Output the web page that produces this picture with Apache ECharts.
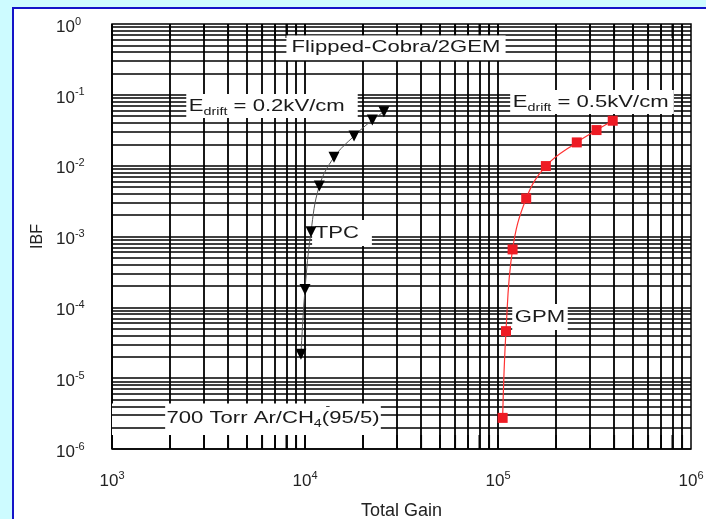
<!DOCTYPE html>
<html>
<head>
<meta charset="utf-8">
<script src="https://cdn.jsdelivr.net/npm/echarts@6/dist/echarts.min.js"></script>
<style>
    html, body {margin: 0; padding: 0; overflow: hidden; background: #cdfbff;}
    #panel {position: absolute; left: 12px; top: 7px; right: 0; bottom: 0; background: #fff;
        border-left: 2px solid #1414c8; border-top: 2px solid #1414c8;}
    #ibfChart {position: absolute; left: 0; top: 0; width: 706px; height: 519px;}
</style>
</head>
<body>
<div id="panel"></div>
<div id="ibfChart"></div>
<script>
// TPC, Edrift = 0.2kV/cm
const tpcGain = [9530, 10000, 10740, 11860, 14130, 17950, 22330, 25650];
const tpcIbf = [2.18e-5, 1.79e-4, 1.165e-3, 5.15e-3, 1.31e-2, 2.62e-2, 4.41e-2, 5.77e-2];
// GPM, Edrift = 0.5kV/cm
const gpmGain = [105700, 110000, 119000, 140000, 177000, 256000, 324000, 393000];
const gpmIbf = [2.75e-6, 4.61e-5, 6.57e-4, 3.45e-3, 9.87e-3, 2.13e-2, 3.18e-2, 4.31e-2];

// log grid: decades and 1..9 inside each one
const xDecades = [3, 4, 5];
const yDecades = [-6, -5, -4, -3, -2, -1];
const mantissas = [1, 2, 3, 4, 5, 6, 7, 8, 9];

const FONT = 'Liberation Sans, Arial, sans-serif';

function gridValues(decades) {
    const vals = [];
    decades.forEach(d => mantissas.forEach(m => vals.push(m * Math.pow(10, d))));
    return vals;
}

const xGrid = gridValues(xDecades);
const yGrid = gridValues(yDecades);
const tpcData = tpcGain.map((g, i) => [g, tpcIbf[i]]);
const gpmData = gpmGain.map((g, i) => [g, gpmIbf[i]]);

function powLabel(v) {
    return '{b|10}{s|' + Math.round(Math.log10(v)) + '}';
}

const labelRich = {
    b: {fontSize: 17, fontFamily: FONT, color: '#222', lineHeight: 22},
    s: {fontSize: 11, fontFamily: FONT, color: '#222', lineHeight: 12, verticalAlign: 'top'}
};

function annText(x, y, text, padding) {
    return {
        type: 'text', x: x, y: y, scaleX: 1.3, z: 50, silent: true,
        style: {
            text: text, align: 'center', verticalAlign: 'middle',
            fontSize: 17, fontFamily: FONT, fill: '#1a1a1a',
            backgroundColor: '#fff', padding: padding,
            rich: {
                m: {fontSize: 17, fontFamily: FONT, fill: '#1a1a1a', lineHeight: 22},
                sub: {fontSize: 11, fontFamily: FONT, fill: '#1a1a1a', lineHeight: 10, verticalAlign: 'bottom'}
            }
        }
    };
}

const chart = echarts.init(document.getElementById('ibfChart'));
chart.setOption({
    backgroundColor: 'transparent',
    animation: false,
    grid: {
        left: 112, right: 15, top: 24, bottom: 70, containLabel: false, outerBoundsMode: 'none',
        show: true, borderColor: '#000', borderWidth: 1.5
    },
    xAxis: {
        type: 'log', min: 1e3, max: 1e6,
        name: 'Total Gain', nameLocation: 'middle', nameGap: 53,
        nameTextStyle: {fontSize: 18, fontFamily: FONT, color: '#222'},
        axisLine: {show: false}, axisTick: {show: false}, splitLine: {show: false},
        axisLabel: {margin: 21, formatter: powLabel, rich: labelRich}
    },
    yAxis: {
        type: 'log', min: 1e-6, max: 1,
        name: 'IBF', nameLocation: 'middle', nameGap: 66,
        nameTextStyle: {fontSize: 16, fontFamily: FONT, color: '#222'},
        axisLine: {show: false}, axisTick: {show: false}, splitLine: {show: false},
        axisLabel: {margin: 56, align: 'left', padding: [6, 0, 0, 0], formatter: powLabel, rich: labelRich}
    },
    series: [
        {
            // vertical grid lines
            type: 'line', data: [], silent: true,
            markLine: {
                z: 1, precision: 12,
                silent: true, symbol: 'none', label: {show: false}, animation: false,
                lineStyle: {color: '#000', width: 1.8, type: 'solid'},
                data: xGrid.map(v => ({xAxis: v}))
            }
        },
        {
            // white boxes behind the top and bottom notes
            type: 'line', data: [], silent: true,
            markArea: {
                z: 2, silent: true, itemStyle: {color: '#fff'}, label: {show: false},
                data: [
                    [{xAxis: 7400, yAxis: 0.634}, {xAxis: 150000, yAxis: 0.3}],
                    [{xAxis: 1000, yAxis: 4.4e-6}, {xAxis: 27600, yAxis: 1.57e-6}]
                ]
            }
        },
        {
            // horizontal grid lines
            type: 'line', data: [], silent: true,
            markLine: {
                z: 3, precision: 12,
                silent: true, symbol: 'none', label: {show: false}, animation: false,
                lineStyle: {color: '#000', width: 1.5, type: 'solid'},
                data: yGrid.map(v => ({yAxis: v}))
            }
        },
        {
            // short ticks on bottom and top edges
            type: 'scatter', z: 4, silent: true, clip: false,
            symbol: 'rect', symbolSize: [1.8, 14], symbolOffset: [0, -7],
            itemStyle: {color: '#000'},
            data: xGrid.map(v => [v, 1e-6])
        },
        {
            type: 'scatter', z: 4, silent: true, clip: false,
            symbol: 'rect', symbolSize: [1.8, 14], symbolOffset: [0, 7],
            itemStyle: {color: '#000'},
            data: xGrid.map(v => [v, 1])
        },
        {
            name: 'TPC', type: 'line', data: tpcData, z: 60,
            smooth: 0.4, symbol: 'triangle', symbolRotate: 180, symbolSize: 11,
            itemStyle: {color: '#000'}, lineStyle: {color: '#555', width: 1}
        },
        {
            name: 'GPM', type: 'line', data: gpmData, z: 60,
            smooth: 0.4, symbol: 'rect', symbolSize: 10,
            itemStyle: {color: '#ee1b24'}, lineStyle: {color: '#f33', width: 1.2}
        }
    ],
    graphic: [
        annText(396, 47, 'Flipped-Cobra/2GEM', [3, 4]),
        annText(272, 106, '{m|E}{sub|drift}{m| = 0.2kV/cm}', [1, 10, 1, 2]),
        annText(592, 102, '{m|E}{sub|drift}{m| = 0.5kV/cm}', [1, 4, 1, 2]),
        annText(342, 233, '{m|TPC}', [2, 10, 2, 2]),
        annText(540, 317, '{m|GPM}', [2, 2, 2, 2]),
        annText(273, 418, '{m|700 Torr Ar/CH}{sub|4}{m|(95/5)}', [1, 1, 1, 1]),
        {
            type: 'text', x: 328, y: 406, scaleX: 1.3, z: 51, silent: true,
            style: {text: '-', align: 'center', verticalAlign: 'middle', fontSize: 11, fontFamily: FONT, fill: '#1a1a1a'}
        }
    ]
});
</script>
</body>
</html>
